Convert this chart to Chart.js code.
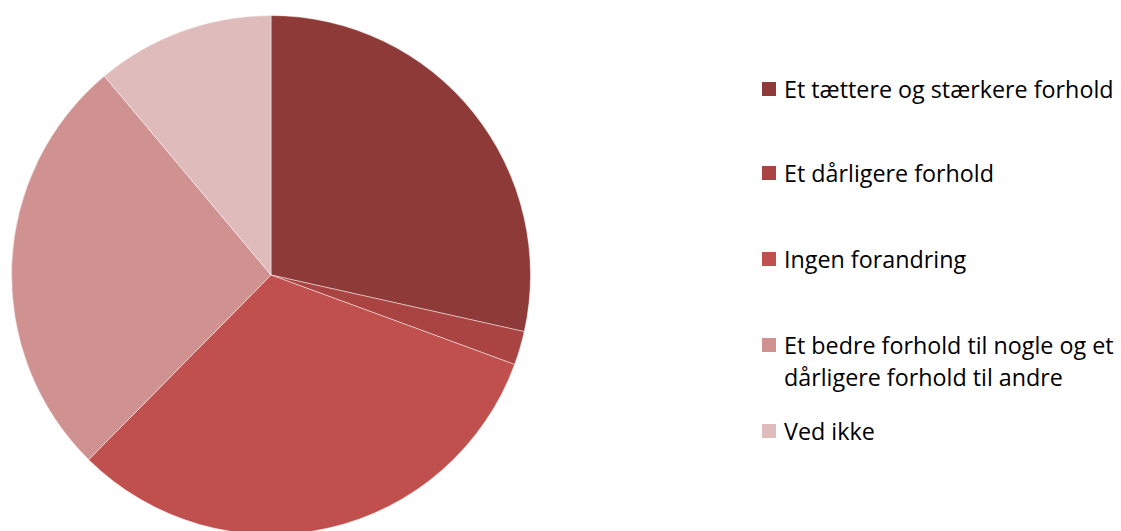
<!DOCTYPE html>
<html>
<head>
<meta charset="utf-8">
<script src="https://cdn.jsdelivr.net/npm/chart.js@4/dist/chart.umd.min.js"></script>
<style>
  html, body { margin: 0; padding: 0; width: 1121px; height: 531px; overflow: hidden; background: #fff; }
  #wrap { position: absolute; left: 11px; top: 15px; width: 520px; height: 520px; }
  #legend { position: absolute; left: 762px; top: 0; font-family: "Open Sans", Lato, sans-serif; font-size: 23.3px; color: #000; }
  .item { position: absolute; left: 0; white-space: nowrap; line-height: 32px; }
  .sw { position: absolute; left: 0; width: 14px; height: 14px; }
  .txt { position: absolute; left: 22px; }
</style>
</head>
<body>
<div id="wrap"><canvas id="c"></canvas></div>
<div id="legend"></div>
<script>
const categories = [
  "Et tættere og stærkere forhold",
  "Et dårligere forhold",
  "Ingen forandring",
  ["Et bedre forhold til nogle og et", "dårligere forhold til andre"],
  "Ved ikke"
];
const values = [28.5, 2.1, 31.8, 26.5, 11.1];
const colors = ["#8E3A38", "#A94442", "#C0504D", "#D09291", "#E0BBBB"];

new Chart(document.getElementById("c"), {
  type: "pie",
  data: {
    labels: categories.map(c => Array.isArray(c) ? c.join(" ") : c),
    datasets: [{
      data: values,
      backgroundColor: colors,
      borderColor: "rgba(255,255,255,0.45)",
      borderWidth: 1
    }]
  },
  options: {
    responsive: true,
    maintainAspectRatio: false,
    animation: false,
    layout: { padding: 0 },
    plugins: { legend: { display: false }, tooltip: { enabled: false } }
  }
});

// legend layout (first-line centre y for each item)
const centres = [89, 173, 259, 345, 431];
const legend = document.getElementById("legend");
categories.forEach((c, i) => {
  const lines = Array.isArray(c) ? c : [c];
  const item = document.createElement("div");
  item.className = "item";
  item.style.top = (centres[i] - 16) + "px";
  const sw = document.createElement("div");
  sw.className = "sw";
  sw.style.background = colors[i];
  sw.style.top = "9px";
  item.appendChild(sw);
  const t = document.createElement("div");
  t.className = "txt";
  t.innerHTML = lines.map(l => l.replace(/&/g, "&amp;").replace(/</g, "&lt;")).join("<br>");
  item.appendChild(t);
  legend.appendChild(item);
});
</script>
</body>
</html>
